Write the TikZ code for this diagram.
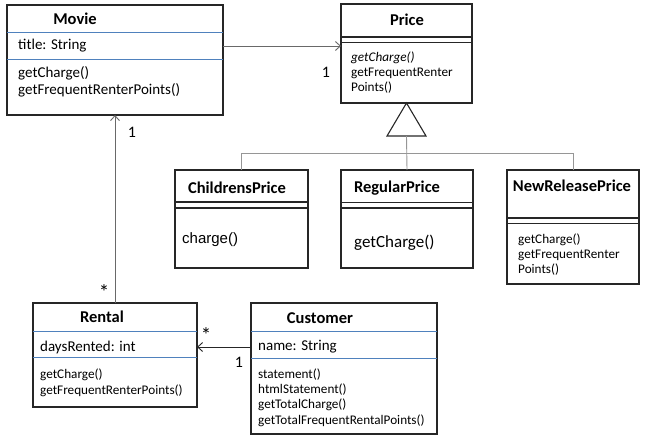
\documentclass[tikz,border=0pt]{standalone}
\usepackage{fontspec}
\setmainfont{Carlito}
\newfontfamily\arialfont{Liberation Sans}
\usetikzlibrary{arrows.meta,calc}

\definecolor{sepblue}{RGB}{79,129,189}
\definecolor{linkgray}{RGB}{105,105,105}

\tikzset{
  umlbox/.style={draw=black!85, line width=1.3pt, inner sep=0pt, outer sep=0pt},
  classname/.style={inner sep=0pt, font=\fontsize{16.5}{20}\selectfont\bfseries},
  member/.style={anchor=west, inner sep=0pt, font=\fontsize{13.2}{15}\selectfont},
  bigmember/.style={member, font=\fontsize{15}{18}\selectfont},
  sepline/.style={draw=sepblue, line width=0.9pt},
  dblline/.style={draw=black!85, line width=1.1pt},
  assoc/.style={draw=linkgray, line width=0.9pt, -{Straight Barb[length=5pt,width=9pt]}},
  inherit/.style={draw=linkgray!70, line width=0.9pt},
  mult/.style={inner sep=0pt, font=\fontsize{16}{19}\selectfont},
  many/.style={inner sep=0pt, font=\fontsize{21}{24}\selectfont}
}

\begin{document}
\begin{tikzpicture}[x=1pt, y=-1pt]
  \useasboundingbox (0,0) rectangle (650,444);

  % Movie
  \node[umlbox, minimum width=216pt, minimum height=110pt] (movie) at (115,60) {};
  \node[classname] (movie-name) at (75,19) {Movie};
  \draw[sepline] (movie.west |- 0,32) -- (movie.east |- 0,32);
  \node[bigmember] (movie-title) at (18,46) {title: String};
  \draw[sepline] (movie.west |- 0,59) -- (movie.east |- 0,59);
  \node[member, font=\fontsize{15}{17}\selectfont] (movie-op1) at (18,73) {getCharge()};
  \node[member, font=\fontsize{15}{17}\selectfont] (movie-op2) at (18,90) {getFrequentRenterPoints()};

  % Price
  \node[umlbox, minimum width=131pt, minimum height=99pt] (price) at (406.5,53.5) {};
  \node[classname] (price-name) at (407,20) {Price};
  \draw[dblline] (price.west |- 0,37) -- (price.east |- 0,37);
  \draw[dblline] (price.west |- 0,42.5) -- (price.east |- 0,42.5);
  \node[member] (price-op1) at (351,58) {\itshape getCharge()};
  \node[member] (price-op2) at (351,73) {getFrequentRenter};
  \node[member] (price-op3) at (351,88) {Points()};

  % subclasses of Price
  \node[umlbox, minimum width=133pt, minimum height=98pt] (childrens) at (241.5,219) {};
  \node[classname] (childrens-name) at (237,188) {ChildrensPrice};
  \draw[dblline] (childrens.west |- 0,202) -- (childrens.east |- 0,202);
  \draw[dblline] (childrens.west |- 0,208) -- (childrens.east |- 0,208);
  \node[member, font=\arialfont\fontsize{15}{18}\selectfont] (childrens-op1) at (182,240) {charge()};

  \node[umlbox, minimum width=132pt, minimum height=98pt] (regular) at (407,219) {};
  \node[classname] (regular-name) at (397,188) {RegularPrice};
  \draw[dblline] (regular.west |- 0,202.5) -- (regular.east |- 0,202.5);
  \draw[dblline] (regular.west |- 0,208) -- (regular.east |- 0,208);
  \node[member, font=\fontsize{17}{20}\selectfont] (regular-op1) at (354,243) {getCharge()};

  \node[umlbox, minimum width=132pt, minimum height=114pt] (newrelease) at (573,227) {};
  \node[classname] (newrelease-name) at (572,186) {NewReleasePrice};
  \draw[dblline] (newrelease.west |- 0,218) -- (newrelease.east |- 0,218);
  \draw[dblline] (newrelease.west |- 0,223.5) -- (newrelease.east |- 0,223.5);
  \node[member] (newrelease-op1) at (518,240) {getCharge()};
  \node[member] (newrelease-op2) at (518,255) {getFrequentRenter};
  \node[member] (newrelease-op3) at (518,270) {Points()};

  % Rental
  \node[umlbox, minimum width=164pt, minimum height=104pt] (rental) at (115,355) {};
  \node[classname] (rental-name) at (102,317) {Rental};
  \draw[sepline] (rental.west |- 0,331) -- (rental.east |- 0,331);
  \node[bigmember] (rental-days) at (40,347) {daysRented: int};
  \draw[sepline] (rental.west |- 0,357) -- (rental.east |- 0,357);
  \node[member] (rental-op1) at (40,375) {getCharge()};
  \node[member] (rental-op2) at (40,391) {getFrequentRenterPoints()};

  % Customer
  \node[umlbox, minimum width=186pt, minimum height=131pt] (customer) at (344,368.5) {};
  \node[classname] (customer-name) at (320,318) {Customer};
  \draw[sepline] (customer.west |- 0,331) -- (customer.east |- 0,331);
  \node[bigmember] (customer-name-attr) at (258,347) {name: String};
  \draw[sepline] (customer.west |- 0,358) -- (customer.east |- 0,358);
  \node[member] (customer-op1) at (258,375) {statement()};
  \node[member] (customer-op2) at (258,390) {htmlStatement()};
  \node[member] (customer-op3) at (258,405) {getTotalCharge()};
  \node[member] (customer-op4) at (258,421) {getTotalFrequentRentalPoints()};

  % generalization
  \coordinate (tribase) at ($(price.south)+(0,33)$);
  \draw[draw=black!85, line width=1.1pt] (price.south) -- ++(-19.5,33) -- ++(39,0) -- cycle;
  \draw[inherit] (tribase) -- (regular.north);
  \draw[inherit] (childrens.north) -- ++(0,-17) -| (newrelease.north);

  % associations
  \draw[assoc] (movie.east |- movie-title) -- (price.west |- movie-title);
  \node[mult] (price-mult) at (326,72) {1};
  \draw[assoc] (rental.north) -- (movie.south);
  \node[mult] (movie-mult) at (132,132) {1};
  \node[many] (rental-mult) at (104,292) {*};
  \draw[assoc, draw=black!85] (customer.west |- customer-name-attr) -- (rental.east |- customer-name-attr);
  \node[many] (rental-mult2) at (206,335) {*};
  \node[mult] (customer-mult) at (239,362) {1};
\end{tikzpicture}
\end{document}
